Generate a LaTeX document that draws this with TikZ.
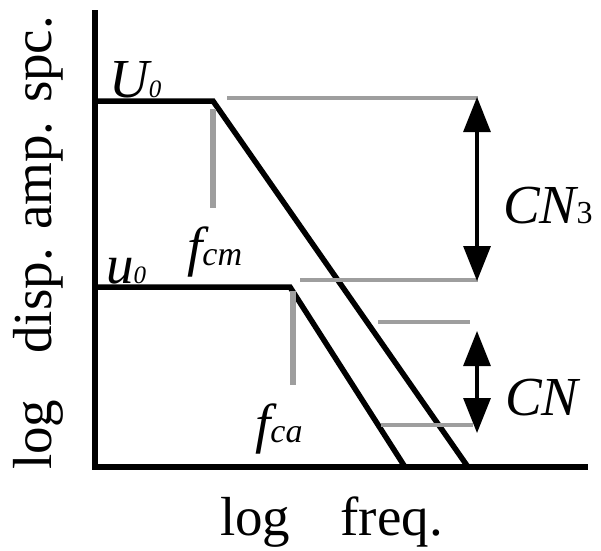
\documentclass[tikz,border=0pt]{standalone}
\usepackage{fontspec}
\setmainfont{Liberation Serif}
\usetikzlibrary{arrows.meta}
\tikzset{
  curve/.style={line width=5.5pt, line join=miter, line cap=butt},
  axisline/.style={line width=5.5pt, line join=miter},
  guide/.style={line width=3.5pt, draw=guidegray},
  mark line/.style={line width=5.5pt, draw=guidegray},
  dim/.style={line width=3.2pt, {Triangle[length=35pt,width=27pt]}-{Triangle[length=35pt,width=27pt]}},
  lbl/.style={inner sep=0pt, anchor=base west},
}
\definecolor{guidegray}{gray}{0.62}
\newcommand{\bigtxt}{\fontsize{55}{60}\selectfont}
\newcommand{\subtxt}{\fontsize{34}{36}\selectfont}
\newcommand{\subzero}{\fontsize{25}{28}\selectfont}
\begin{document}
\begin{tikzpicture}[x=1pt,y=-1pt]
\useasboundingbox (0,0) rectangle (601,550);
% axes
\coordinate (top) at (95,10);
\coordinate (orig) at (95,467);
\coordinate (xend) at (588,467);
\draw[axisline] (top) -- (orig) -- (xend);
% curves
\coordinate (U) at (95,101);
\coordinate (Uc) at (213,101);
\coordinate (Ue) at (468,467);
\coordinate (u) at (95,287);
\coordinate (uc) at (290,287);
\coordinate (ue) at (405,467);
\draw[curve] (U) -- (Uc) -- (Ue);
\draw[curve] (u) -- (uc) -- (ue);
% guides
\coordinate (g1a) at (227,98); \coordinate (g1b) at (478,98);
\coordinate (g2a) at (300,280); \coordinate (g2b) at (478,280);
\coordinate (g3a) at (378,322); \coordinate (g3b) at (470,322);
\coordinate (g4a) at (381,425); \coordinate (g4b) at (473,425);
\draw[guide] (g1a) -- (g1b);
\draw[guide] (g2a) -- (g2b);
\draw[guide] (g3a) -- (g3b);
\draw[guide] (g4a) -- (g4b);
\coordinate (m1a) at (213,109); \coordinate (m1b) at (213,208);
\coordinate (m2a) at (293,291); \coordinate (m2b) at (293,385);
\draw[mark line] (m1a) -- (m1b);
\draw[mark line] (m2a) -- (m2b);
% dimension arrows
\coordinate (a1a) at (477,97); \coordinate (a1b) at (477,281);
\coordinate (a2a) at (477,331); \coordinate (a2b) at (477,433);
\draw[dim] (a1a) -- (a1b);
\draw[dim] (a2a) -- (a2b);
% labels
\node[lbl] (lU) at (109,97) {\bigtxt\itshape U\subzero 0};
\node[lbl] (lu) at (106,283) {\bigtxt\itshape u\subzero 0};
\node[lbl] (lfcm) at (187,265) {\bigtxt\itshape f\subtxt cm};
\node[lbl] (lfca) at (255,442) {\bigtxt\itshape f\subtxt ca};
\node[lbl] (lCN3) at (503,223) {\bigtxt\itshape CN\upshape\fontsize{32}{34}\selectfont 3};
\node[lbl] (lCN) at (505,415) {\bigtxt\itshape CN};
\node[lbl] (lx) at (220,535) {\bigtxt log\hspace{50pt}freq.};
\node[lbl, rotate=90] (ly) at (51,470) {\bigtxt log\hspace{46pt}disp. amp. spc.};
\end{tikzpicture}
\end{document}
